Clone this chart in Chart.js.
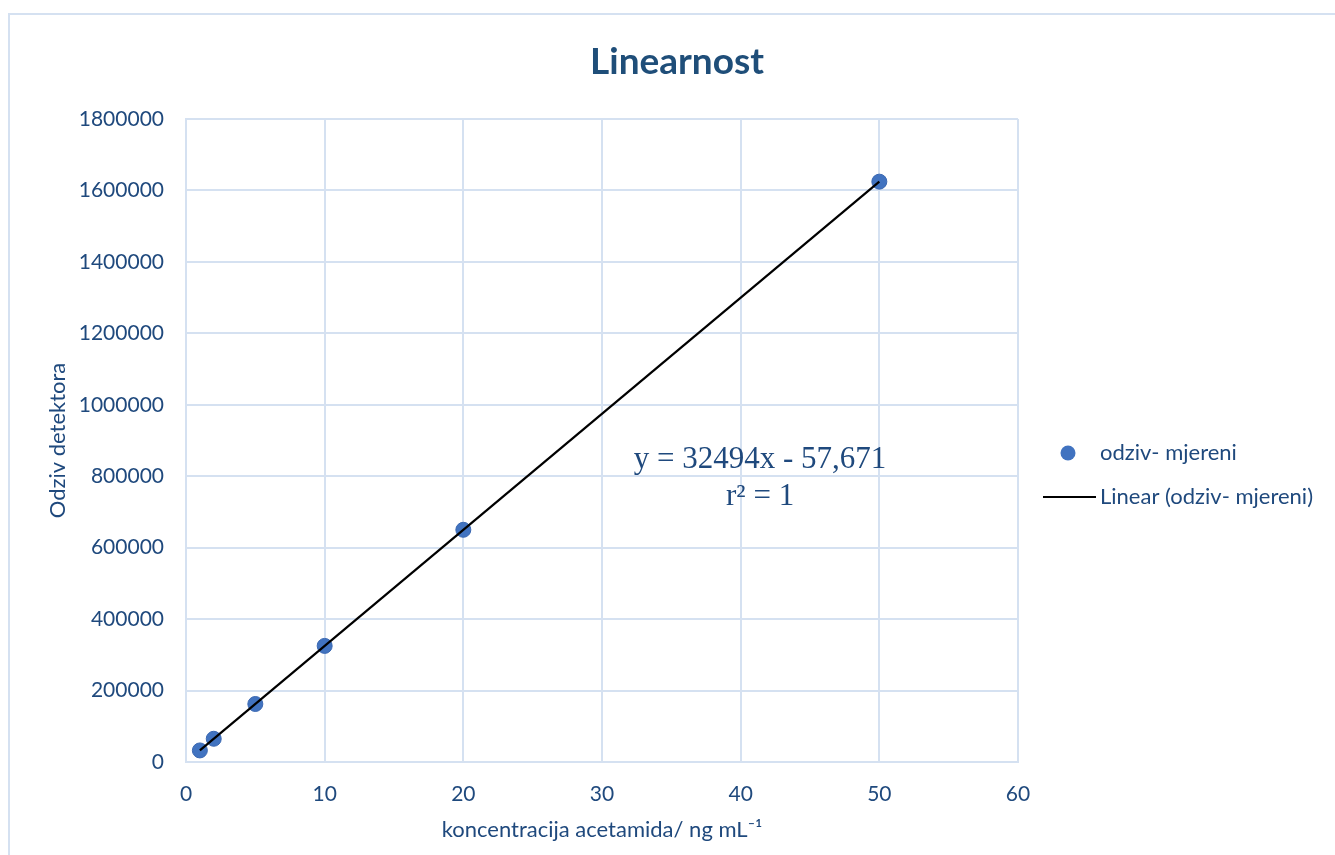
<!DOCTYPE html>
<html>
<head>
<meta charset="utf-8">
<title>Linearnost</title>
<script src="https://cdn.jsdelivr.net/npm/chart.js@4/dist/chart.umd.min.js"></script>
<style>
  html, body { margin: 0; padding: 0; background: #fff; }
  #wrap { position: relative; width: 1335px; height: 855px; overflow: hidden; }
  #frame { position: absolute; left: 8px; top: 13px; width: 1400px; height: 900px;
           border: 2px solid #d5e1f1; box-sizing: border-box; }
  #chart { position: absolute; left: 0; top: 0; }
</style>
</head>
<body>
<div id="wrap">
  <div id="frame"></div>
  <canvas id="chart" width="1335" height="855"></canvas>
</div>
<script>
// measured points (concentration / detector response)
const concentration = [1, 2, 5, 10, 20, 50];
const response = [32400, 65000, 162400, 325000, 650000, 1624600];

// trendline end points as shown on the chart
const trendX = [1, 50];
const trendY = [32437, 1624643];

const chartTitle = 'Linearnost';
const seriesName = 'odziv- mjereni';
const trendName = 'Linear (odziv- mjereni)';
const equationLines = ['y = 32494x - 57,671', 'r² = 1'];

const navy = '#1f497d';
const gridColor = '#d5e1f1';
const pointColor = '#4173c0';
const sans = 'Lato, "Open Sans", sans-serif';

// title, centred on the whole chart box
const titlePlugin = {
  id: 'bigTitle',
  afterDraw(chart) {
    const ctx = chart.ctx;
    ctx.save();
    ctx.font = 'bold 37px ' + sans;
    ctx.fillStyle = '#1f4e79';
    ctx.textAlign = 'center';
    ctx.textBaseline = 'middle';
    ctx.fillText(chartTitle, 677, 62);
    ctx.restore();
  }
};

// equation text next to the trendline
const equationPlugin = {
  id: 'equation',
  afterDatasetsDraw(chart) {
    const ctx = chart.ctx;
    const x = chart.scales.x.getPixelForValue(41.4);
    const y = chart.scales.y.getPixelForValue(845000);
    ctx.save();
    ctx.font = '31px "Liberation Serif", "Times New Roman", serif';
    ctx.fillStyle = navy;
    ctx.textAlign = 'center';
    ctx.textBaseline = 'middle';
    ctx.fillText(equationLines[0], x, y);
    ctx.fillText(equationLines[1], x, y + 37);
    ctx.restore();
  }
};

// legend to the right of the plot
const sideLegend = {
  id: 'sideLegend',
  afterDraw(chart) {
    const ctx = chart.ctx;
    const r = chart.chartArea.right;
    ctx.save();
    ctx.font = '22px ' + sans;
    ctx.textBaseline = 'middle';
    ctx.fillStyle = pointColor;
    ctx.beginPath();
    ctx.arc(r + 50, 453, 7.5, 0, Math.PI * 2);
    ctx.fill();
    ctx.strokeStyle = '#000';
    ctx.lineWidth = 2;
    ctx.beginPath();
    ctx.moveTo(r + 25, 497);
    ctx.lineTo(r + 78, 497);
    ctx.stroke();
    ctx.fillStyle = navy;
    ctx.fillText(seriesName, r + 82, 453);
    ctx.fillText(trendName, r + 82, 497);
    ctx.restore();
  }
};

new Chart(document.getElementById('chart'), {
  type: 'scatter',
  data: {
    datasets: [
      {
        label: trendName,
        type: 'line',
        data: trendX.map((x, i) => ({ x: x, y: trendY[i] })),
        borderColor: '#000',
        borderWidth: 2.2,
        pointRadius: 0,
        fill: false,
        order: 1
      },
      {
        label: seriesName,
        data: concentration.map((x, i) => ({ x: x, y: response[i] })),
        backgroundColor: pointColor,
        borderColor: '#3a67b1',
        borderWidth: 1,
        pointRadius: 7.5,
        order: 2
      }
    ]
  },
  options: {
    responsive: false,
    animation: false,
    layout: { padding: { left: 10, right: 317, top: 119, bottom: 8 } },
    plugins: {
      legend: { display: false },
      tooltip: { enabled: false },
      title: { display: false }
    },
    scales: {
      x: {
        type: 'linear',
        min: 0,
        max: 60,
        afterFit(scale) { scale.height = 85; },
        ticks: { stepSize: 10, color: navy, padding: 20, font: { family: sans, size: 21 } },
        grid: { color: gridColor, lineWidth: 2, drawTicks: false },
        border: { color: gridColor, width: 2 },
        title: { display: true, text: 'koncentracija acetamida/ ng mL⁻¹', color: navy,
                 padding: { top: 9.6, bottom: 4 },
                 font: { family: sans, size: 22 } }
      },
      y: {
        min: 0,
        max: 1800000,
        afterFit(scale) { scale.width = 176; },
        ticks: { stepSize: 200000, color: navy, padding: 22,
                 font: { family: sans, size: 21 },
                 callback: (v) => String(v) },
        grid: { color: gridColor, lineWidth: 2, drawTicks: false },
        border: { color: gridColor, width: 2 },
        title: { display: true, text: 'Odziv detektora', color: navy,
                 padding: { top: 34.8, bottom: 0 },
                 font: { family: sans, size: 22 } }
      }
    }
  },
  plugins: [titlePlugin, equationPlugin, sideLegend]
});
</script>
</body>
</html>
